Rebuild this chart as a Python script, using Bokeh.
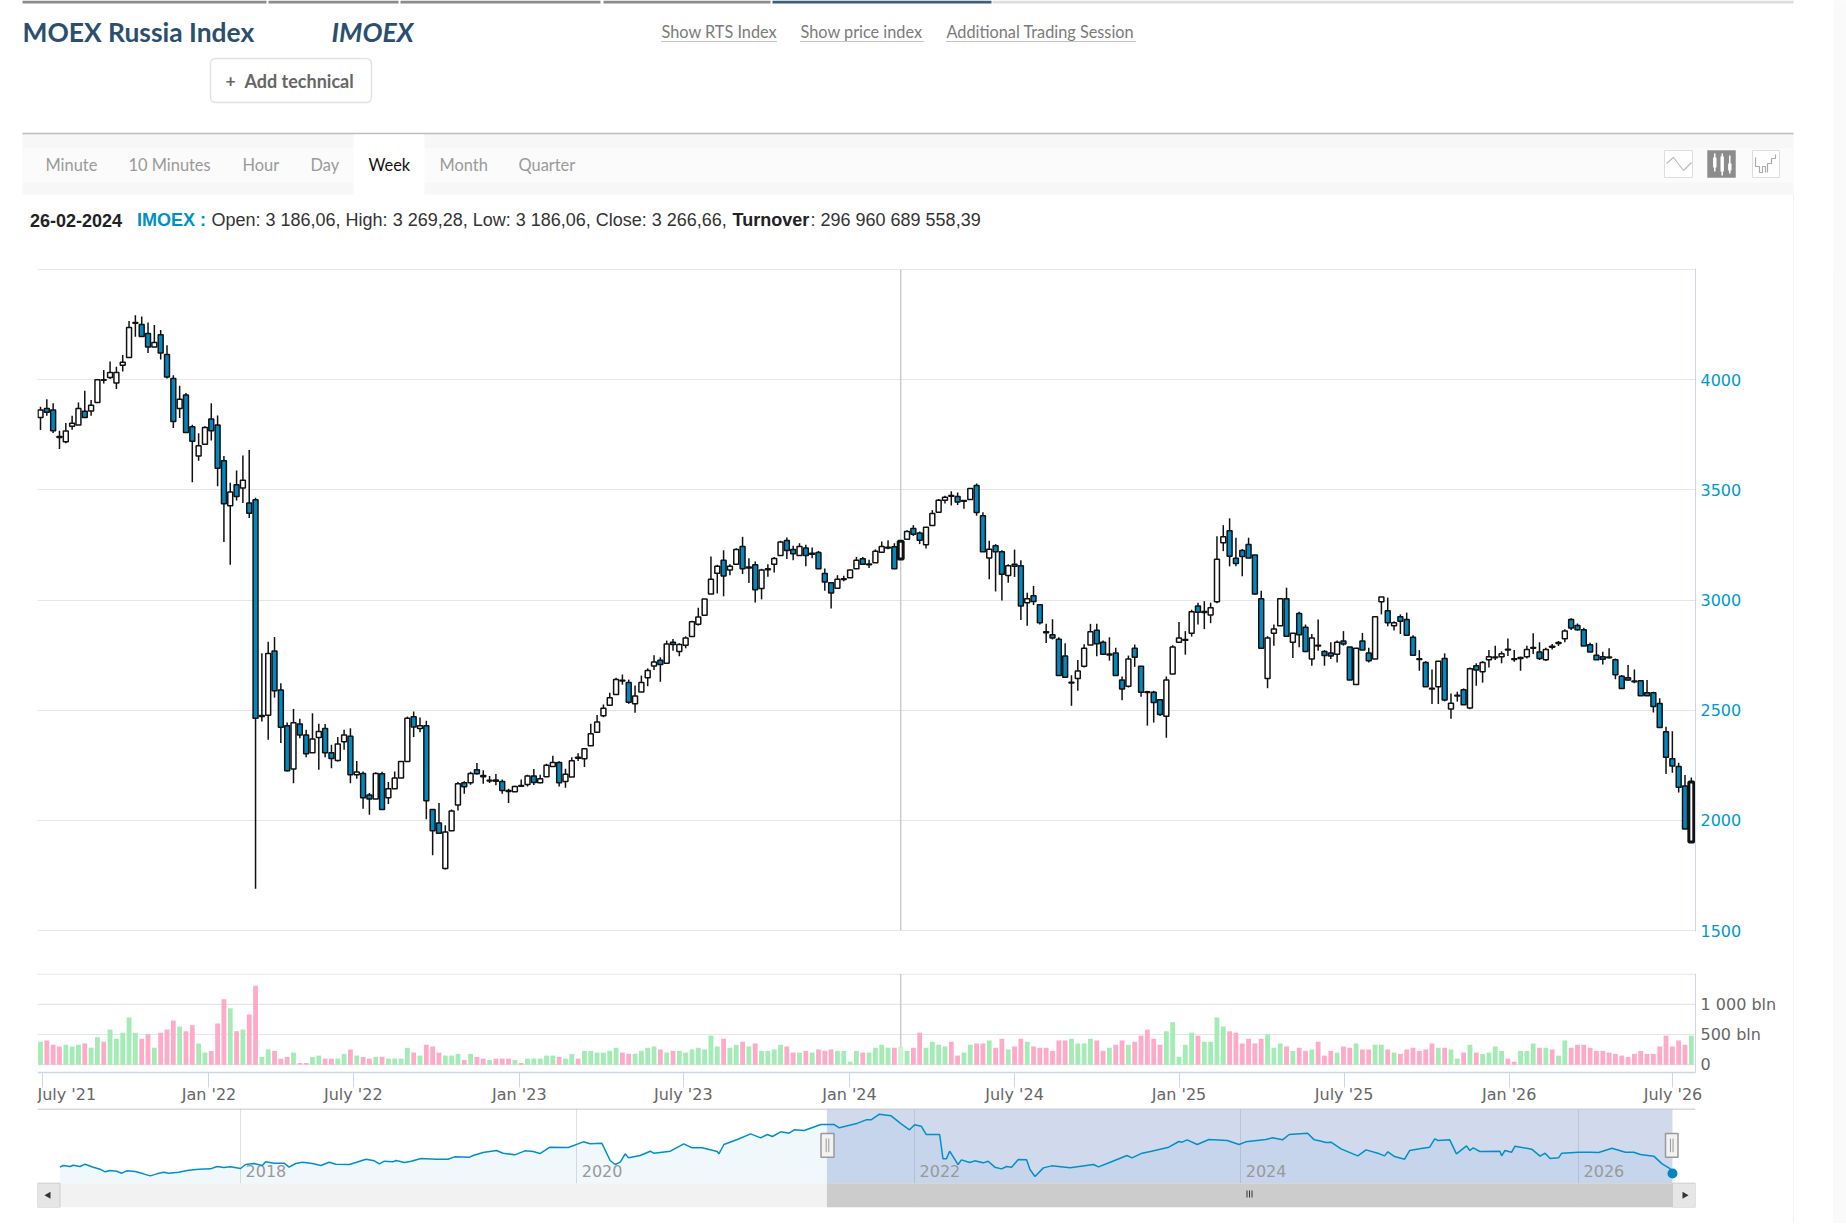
from math import pi
from bokeh.plotting import figure
from bokeh.layouts import column
from bokeh.embed import file_html
from bokeh.resources import INLINE
from bokeh.core.properties import value
from bokeh.models import Range1d, FixedTicker, BoxAnnotation, ColumnDataSource

# ---------------- weekly candles (index points) ----------------
open_ = [
3829,3870,3863,3742,3719,3789,3795,3857,3858,3897, 3998,4010,3985,4066,4101,4257,4251,4210,4149,4204,
4115,4006,3870,3931,3787,3654,3707,3822,3795,3632, 3428,3523,3509,3441,3455,2476,2477,2769,2592,2429,
2233,2437,2388,2307,2376,2417,2307,2272,2357,2382, 2207,2213,2115,2097,2212,2103,2144,2192,2267,2470,
2417,2429,2049,1988,1781,1953,2070,2171,2171,2230, 2204,2182,2183,2176,2135,2130,2155,2163,2201,2171,
2198,2245,2263,2176,2197,2282,2280,2339,2400,2475, 2523,2571,2636,2626,2529,2583,2647,2701,2727,2713,
2808,2767,2795,2835,2890,2931,3027,3122,3181,3136, 3162,3243,3150,3160,3053,3138,3163,3202,3270,3230,
3202,3236,3212,3216,3121,3079,3054,3093,3101,3142, 3187,3164,3169,3217,3240,3242,3186,3276,3325,3304,
3251,3338,3399,3453,3475,3470,3452,3457,3520,3383, 3191,3246,3219,3111,3163,3156,2988,3020,2979,2856,
2842,2822,2746,2627,2644,2699,2796,2863,2808,2755, 2760,2637,2609,2781,2699,2584,2582,2548,2473,2664,
2808,2821,2849,2973,2948,2932,2992,3260,3315,3190, 3225,3252,3205,3006,2644,2849,2883,3006,2808,2939,
2877,2732,2795,2767,2760,2754,2814,2787,2617,2814, 2760,2732,2992,2951,2883,2924,2912,2831,2734,2716,
2600,2607,2735,2505,2564,2593,2510,2702,2675,2729, 2742,2743,2777,2734,2739,2743,2785,2764,2729,2790,
2807,2824,2912,2885,2865,2797,2750,2743,2742,2729, 2654,2647,2633,2634,2579,2579,2531,2402,2280,2245,
2156,1902,
]
close_ = [
3863,3852,3769,3738,3767,3802,3870,3829,3884,4000, 4000,4033,4033,4080,4237,4260,4196,4149,4169,4121,
4012,3810,3911,3761,3721,3700,3783,3769,3598,3437, 3490,3470,3544,3394,2464,2471,2757,2588,2423,2225,
2443,2388,2302,2369,2403,2307,2281,2347,2388,2207, 2219,2103,2097,2213,2049,2144,2192,2267,2464,2424,
2429,2089,1953,1941,1947,2042,2166,2153,2213,2212, 2198,2179,2177,2136,2131,2154,2158,2201,2172,2189,
2250,2263,2171,2209,2271,2286,2325,2393,2447,2509, 2556,2639,2633,2536,2564,2626,2680,2719,2707,2801,
2798,2798,2828,2902,2923,3005,3094,3154,3109,3154, 3230,3142,3145,3047,3136,3142,3189,3263,3225,3210,
3243,3202,3208,3142,3082,3032,3094,3097,3136,3181, 3163,3160,3222,3243,3236,3142,3267,3311,3299,3272,
3331,3393,3453,3467,3471,3445,3448,3506,3397,3219, 3231,3219,3117,3156,3153,2973,3006,2994,2897,2852,
2828,2658,2650,2623,2678,2781,2856,2802,2754,2751, 2658,2596,2732,2740,2582,2580,2535,2480,2637,2787,
2828,2817,2947,2945,2943,2965,3185,3287,3199,3166, 3198,3191,3027,2781,2828,2869,3006,2836,2849,2843,
2767,2828,2791,2748,2746,2808,2801,2637,2781,2773, 2725,2924,3014,2897,2897,2904,2840,2749,2730,2607,
2596,2722,2546,2532,2568,2525,2688,2682,2716,2743, 2738,2756,2773,2730,2735,2776,2781,2735,2776,2786,
2803,2859,2873,2865,2791,2764,2729,2731,2738,2661, 2599,2637,2629,2566,2566,2517,2422,2287,2247,2150,
1961,2174,
]
high = [
3878,3912,3893,3769,3804,3837,3897,3950,3908,4000, 4044,4083,4059,4112,4267,4293,4287,4260,4248,4226,
4157,4020,3973,3940,3796,3757,3789,3893,3838,3654, 3533,3588,3656,3681,3464,2758,2811,2832,2622,2444,
2506,2461,2411,2486,2438,2437,2343,2378,2411,2418, 2270,2222,2124,2218,2221,2174,2222,2267,2471,2494,
2467,2452,2049,2079,1978,2049,2174,2177,2221,2260, 2227,2201,2210,2185,2144,2157,2186,2207,2233,2207,
2257,2293,2268,2234,2287,2305,2325,2438,2478,2526, 2579,2647,2662,2639,2612,2657,2690,2749,2740,2816,
2823,2804,2835,2906,2965,3005,3198,3160,3226,3163, 3235,3287,3190,3175,3142,3163,3196,3269,3284,3246,
3258,3251,3239,3223,3143,3079,3113,3110,3139,3196, 3196,3183,3230,3266,3272,3258,3269,3317,3340,3311,
3331,3408,3459,3474,3494,3488,3454,3508,3529,3398, 3269,3254,3226,3163,3229,3181,3033,3064,2979,2892,
2913,2831,2804,2659,2728,2799,2892,2892,2816,2831, 2783,2653,2748,2798,2699,2588,2588,2548,2653,2795,
2900,2859,2956,2988,2995,2988,3290,3340,3371,3283, 3232,3283,3205,3042,2836,2889,3006,3056,2849,2947,
2889,2846,2912,2773,2808,2816,2859,2787,2781,2851, 2783,2924,3014,3011,2904,2935,2943,2840,2773,2723,
2685,2722,2758,2576,2584,2599,2694,2713,2723,2773, 2793,2767,2826,2773,2743,2793,2849,2808,2784,2800,
2814,2867,2917,2894,2874,2806,2806,2765,2781,2735, 2660,2705,2685,2637,2637,2584,2554,2425,2405,2262,
2206,2195,
]
low = [
3772,3837,3758,3686,3712,3773,3795,3829,3837,3897, 3983,4003,3958,4038,4101,4195,4196,4121,4149,4092,
4006,3781,3826,3761,3535,3632,3707,3724,3517,3263, 3160,3452,3440,3372,1689,2449,2366,2557,2351,2222,
2169,2373,2287,2307,2230,2287,2237,2267,2320,2169, 2189,2053,2026,2097,2049,2074,2144,2192,2267,2378,
2400,2005,1842,1941,1777,1953,2045,2121,2162,2208, 2166,2170,2159,2121,2079,2130,2154,2154,2160,2168,
2198,2245,2154,2148,2197,2269,2242,2339,2400,2468, 2523,2571,2616,2529,2488,2583,2609,2683,2629,2713,
2770,2745,2781,2835,2884,2931,3027,3030,3017,3113, 3162,3118,3077,2989,3003,3106,3125,3202,3186,3181,
3202,3153,3190,3142,3042,2962,3054,3085,3101,3142, 3163,3145,3169,3217,3231,3142,3186,3276,3291,3254,
3234,3338,3399,3438,3429,3432,3415,3457,3383,3219, 3094,3039,2998,3079,3105,2909,2883,2977,2889,2805,
2821,2658,2646,2520,2588,2694,2796,2745,2754,2725, 2658,2545,2603,2697,2561,2430,2444,2474,2375,2664,
2808,2752,2834,2889,2868,2895,2986,3222,3153,3153, 3108,3191,3024,2781,2600,2793,2883,2836,2737,2786,
2763,2702,2770,2702,2732,2717,2793,2637,2617,2773, 2717,2732,2935,2881,2862,2846,2838,2747,2679,2607,
2528,2528,2540,2461,2539,2525,2504,2611,2625,2694, 2728,2713,2746,2720,2679,2735,2755,2728,2723,2776,
2791,2808,2864,2861,2791,2764,2729,2708,2735,2640, 2599,2634,2622,2566,2566,2490,2422,2210,2216,2127,
1961,1902,
]
emphasised_weeks = [136, 261]

# ---------------- weekly turnover, bln ----------------
turnover = [
380,402,330,302,330,302,330,352,280,453, 380,581,430,531,783,531,430,503,280,531,
581,732,632,553,654,352,201,229,682,1084, 934,553,581,833,1308,129,252,229,101,129,
201,28,28,129,151,101,101,101,179,252, 151,129,101,129,129,101,101,101,280,201,
151,330,302,201,151,151,179,78,179,129, 101,78,101,101,101,78,28,101,101,101,
151,151,129,101,179,101,229,229,201,201, 229,280,201,179,179,229,280,302,252,201,
229,229,201,252,280,252,481,302,430,280, 330,380,302,352,229,229,252,330,302,201,
201,229,201,252,229,252,229,229,50,229, 201,201,280,330,280,280,297,229,280,531,
280,380,330,302,380,151,201,330,352,352, 402,280,430,252,302,430,380,302,280,280,
229,402,402,430,352,352,430,402,229,280, 330,402,330,380,481,581,430,330,553,704,
129,330,531,481,380,380,783,632,553,531, 352,430,352,430,503,280,352,302,229,280,
229,252,380,151,229,201,302,280,352,252, 252,330,330,252,201,179,252,280,229,252,
352,280,280,252,101,201,330,201,179,201, 302,229,101,50,229,229,352,280,280,252,
151,402,280,330,330,280,229,229,201,179, 151,129,179,229,179,179,302,481,302,402,
330,481,
]
turnover_dir = (
"GPPPGGGPGG" "PGGGGGPPGP" "PPGPPGGPPP" "GPGPPGGPPP" "GPPGGPPGGP"
"GPPGPGGGGP" "GPPPGGGPGP" "PGPPPGPGGG" "GGPGGPGGGG" "GGPPGGGGPG"
"PGGGGGGGPG" "GPGPGGGGPP" "GPGPPPGGGG" "PGGGGPGGPP" "GGGGPPGGPP"
"GPPGPPGPPP" "PPPGGGGPPG" "PPGPPPPPGG" "GGGPGGGGPP" "PPPPGGGPGP"
"PGPPPGPPGP" "PGGPGPPPPP" "PGPGGPGPGG" "GGPPGGGPGP" "GGPPPPPPPP"
"PPPPPPPPPP" "PG"
)

# ---------------- axes ----------------
price_ticks = [1500, 2000, 2500, 3000, 3500, 4000, 4500]
turnover_ticks = [0, 500, 1000, 1500]
turnover_labels = {"0": "0", "500": "500 bln", "1000": "1 000 bln", "1500": ""}
time_tick_pos = [0.27, 26.64, 49.45, 75.7, 101.63, 127.9, 154.0, 180.0, 206.1, 232.2, 258.1]
time_tick_lab = ["July '21", "Jan '22", "July '22", "Jan '23", "July '23", "Jan '24",
                 "July '24", "Jan '25", "July '25", "Jan '26", "July '26"]
nav_tick_pos = [2018.0, 2020.01, 2022.03, 2023.98, 2026.0]
nav_tick_lab = ["2018", "2020", "2022", "2024", "2026"]

# ---------------- navigator series ----------------
nav_t = [
2016.92,2016.94,2016.98,2017.00,2017.04,2017.07,2017.12,2017.16,2017.19,2017.22,2017.26,2017.29,2017.32,2017.37,
2017.42,2017.46,2017.50,2017.54,2017.57,2017.63,2017.69,2017.75,2017.82,2017.86,2017.90,2017.94,2018.00,2018.03,
2018.08,2018.13,2018.15,2018.20,2018.26,2018.29,2018.33,2018.37,2018.43,2018.48,2018.53,2018.57,2018.65,2018.69,
2018.75,2018.80,2018.83,2018.86,2018.91,2018.93,2018.98,2019.02,2019.08,2019.17,2019.24,2019.28,2019.37,2019.39,
2019.45,2019.53,2019.57,2019.64,2019.70,2019.75,2019.79,2019.85,2019.96,2020.05,2020.09,2020.16,2020.21,2020.24,
2020.27,2020.30,2020.32,2020.39,2020.45,2020.47,2020.57,2020.65,2020.70,2020.76,2020.85,2020.86,2020.89,2020.97,
2021.05,2021.11,2021.15,2021.18,2021.23,2021.28,2021.31,2021.37,2021.47,2021.55,2021.58,2021.69,2021.74,2021.77,
2021.82,2021.89,2021.95,2022.00,2022.03,2022.07,2022.10,2022.18,2022.20,2022.22,2022.24,2022.29,2022.31,2022.36,
2022.39,2022.44,2022.47,2022.51,2022.55,2022.58,2022.61,2022.65,2022.70,2022.72,2022.75,2022.80,2022.85,2022.96,
2023.10,2023.13,2023.20,2023.30,2023.33,2023.39,2023.44,2023.55,2023.61,2023.63,2023.66,2023.72,2023.79,2023.90,
2023.97,2024.01,2024.13,2024.17,2024.23,2024.27,2024.38,2024.42,2024.45,2024.49,2024.52,2024.58,2024.68,2024.73,
2024.81,2024.84,2024.86,2024.90,2024.96,2024.99,2025.05,2025.11,2025.14,2025.16,2025.23,2025.27,2025.33,2025.35,
2025.37,2025.41,2025.53,2025.54,2025.56,2025.60,2025.62,2025.72,2025.77,2025.80,2025.83,2025.88,2025.90,2026.00,
2026.07,2026.12,2026.20,2026.28,2026.33,2026.37,2026.45,2026.50,2026.54,2026.56,
]
nav_v = [
2258,2321,2283,2334,2283,2372,2258,2181,2080,2131,2105,2029,2118,2093,
2004,1927,2004,2067,2029,2067,2143,2181,2194,2283,2245,2270,2207,2359,
2397,2321,2461,2410,2410,2258,2397,2448,2397,2321,2448,2372,2359,2435,
2562,2499,2385,2486,2461,2512,2435,2486,2588,2562,2562,2651,2639,2702,
2816,2893,2791,2727,2880,2855,2778,3020,3007,3223,3147,3172,2512,2359,
2448,2766,2613,2702,2867,2791,2867,3147,2994,2994,2855,2766,3121,3312,
3528,3375,3502,3426,3604,3553,3680,3655,3883,3883,3756,3934,4061,4061,
4277,4213,3909,3680,3871,3820,3502,3502,2575,2575,2867,2359,2537,2435,
2499,2423,2486,2258,2194,2283,2258,2550,2537,2169,1902,2232,2308,2232,
2359,2270,2448,2702,2613,2791,2855,3020,3236,3210,3299,3121,3312,3274,
3121,3223,3312,3375,3299,3502,3553,3299,3261,3197,3210,2956,2689,2918,
2766,2689,2842,2664,2562,2893,2956,3020,3337,3274,3299,2766,3070,2893,
2994,2855,2867,2689,2893,2829,3058,2943,2677,2791,2588,2613,2791,2829,
2829,2816,2982,2829,2829,2740,2677,2385,2232,2131,
]

# ---------------- page geometry (the page renders at 0,0) ----------------
W = 1846
PAD_L, PAD_R = 37, 151
BLUE = "#0088bf"
AXIS = "#ccd6eb"
GRID = "#e6e6e6"
FONT_AX = "DejaVu Sans"
x0_px, step_px = 40.0, 6.325
idx_start = (37 - x0_px) / step_px
idx_end = (1695 - x0_px) / step_px
idx_page_end = (W - x0_px) / step_px

# ---------------- header (page chrome, in page pixels) ----------------
H_A = 268
a = figure(width=W, height=H_A, x_range=Range1d(0, W), y_range=Range1d(H_A, 0), x_axis_location=None,
           y_axis_location=None, toolbar_location=None, output_backend="svg", min_border=0, outline_line_color=None)
a.frame_align = False
a.grid.visible = False
LATO = value("Lato")
LIB = value("Liberation Sans")


def txt(x, y, s, size, color, font=LATO, style="normal", align="left"):
    a.text([x], [y], text=[s], text_font=font, text_font_size=f"{size}px", text_color=color,
           text_font_style=style, text_align=align, text_baseline="middle")


# top tab strip
tabs = [(22, 266, "#8c8c8c"), (268, 398, "#8c8c8c"), (400, 600, "#8c8c8c"), (603, 770, "#8c8c8c"),
        (772, 991, "#3f5f78"), (992, 1793, "#dddddd")]
for l, r, c in tabs:
    a.quad(left=l, right=r, top=0, bottom=3, fill_color=c, line_color=None)
a.quad(left=1833, right=1846, top=0, bottom=268, fill_color="#fafafa", line_color=None)
txt(22, 31, "MOEX Russia Index", 26.4, "#2b4f6e", style="bold")
txt(331, 31, "IMOEX", 26.6, "#2b4f6e", style="bold italic")
for x1, x2, s in [(661, 777, "Show RTS Index"), (800, 923, "Show price index"), (946, 1135, "Additional Trading Session")]:
    txt(x1, 31, s, 16.3, "#7b7b7b")
    a.segment(x1, 41, x2, 41, line_color="#888888", line_dash="1 1", line_width=1)
a.add_layout(BoxAnnotation(left=210, right=371, top=58, bottom=102, fill_alpha=0, line_color="#a0a0a0",
                           line_width=1.4, border_radius=5))
txt(225, 80, "+", 17.5, "#666666", style="bold")
txt(244, 80, "Add technical", 18, "#666666", style="bold")

# toolbar
a.quad(left=22, right=1793, top=133, bottom=194, fill_color="#f7f7f7", line_color=None)
a.quad(left=22, right=1793, top=148, bottom=182, fill_color="#fbfbfb", line_color=None)
a.segment(22, 133, 1793, 133, line_color="#bdbdbd", line_width=1.3)
a.quad(left=353, right=424, top=134, bottom=194, fill_color="#ffffff", line_color=None)
a.segment(1793, 194, 1793, 268, line_color="#f2f2f2", line_width=1)
for x, s, c in [(45, "Minute", "#9a9a9a"), (128, "10 Minutes", "#9a9a9a"), (242, "Hour", "#9a9a9a"), (310, "Day", "#9a9a9a"),
                (368, "Week", "#111111"), (439, "Month", "#9a9a9a"), (518, "Quarter", "#9a9a9a")]:
    txt(x, 163.5, s, 16.4, c)
# chart-type buttons
a.quad(left=[1664, 1707, 1752], right=[1692, 1735, 1779], top=150, bottom=177,
       fill_color=["#ffffff", "#8c8c8c", "#ffffff"], line_color=["#dddddd", "#aaaaaa", "#dddddd"])
a.line([1666, 1673, 1683, 1691], [163, 157, 170, 162], line_color="#bbbbbb", line_width=1.2)
for cx, t, b_, wt, wb in [(1714.3, 157, 167, 153, 171), (1721.7, 156, 171, 153, 175), (1729.3, 163, 170, 155, 173)]:
    a.segment(cx, wt, cx, wb, line_color="#ffffff", line_width=1.5)
    a.quad(left=cx - 1.7, right=cx + 1.7, top=t, bottom=b_, fill_color="#ffffff", line_color=None)
a.line([1755, 1755, 1759, 1759, 1762, 1762, 1765, 1765], [157, 166, 166, 172, 172, 166, 166, 172],
       line_color="#aaaaaa", line_width=1.2)
a.line([1767, 1767, 1771, 1771, 1775, 1775], [172, 163, 163, 158, 158, 154], line_color="#aaaaaa", line_width=1.2)

# info line
txt(29.5, 219.5, "26-02-2024", 18, "#222222", font=LIB, style="bold")
txt(136.5, 219.5, "IMOEX :", 18, "#0090c8", font=LIB, style="bold")
txt(211, 219.5, "Open: 3 186,06, High: 3 269,28, Low: 3 186,06, Close: 3 266,66,", 18, "#333333", font=LIB)
txt(732, 219.5, "Turnover", 18, "#222222", font=LIB, style="bold")
txt(810, 219.5, ": 296 960 689 558,39", 18, "#333333", font=LIB)

# ---------------- price pane ----------------
x = list(range(len(open_)))
b = figure(width=W, height=677, x_range=Range1d(idx_start, idx_end), y_range=Range1d(1495.5, 4505),
           x_axis_location=None, y_axis_location="right", toolbar_location=None, output_backend="svg",
           min_border_left=PAD_L, min_border_right=PAD_R, min_border_top=0, min_border_bottom=14,
           outline_line_color=None, border_fill_color=None)
b.frame_align = False
b.xgrid.visible = False
b.ygrid.ticker = FixedTicker(ticks=price_ticks)
b.ygrid.grid_line_color = GRID
b.ygrid.grid_line_width = 1.2
b.yaxis.ticker = FixedTicker(ticks=price_ticks)
b.yaxis.major_label_overrides = {4500: ""}
b.yaxis.major_tick_line_color = None
b.yaxis.major_tick_in = 0
b.yaxis.major_tick_out = 0
b.yaxis.minor_tick_line_color = None
b.yaxis.axis_line_color = AXIS
b.yaxis.major_label_standoff = 5
b.yaxis.major_label_text_color = "#0099cc"
b.yaxis.major_label_text_font = FONT_AX
b.yaxis.major_label_text_font_size = "16px"
b.segment(x0=[136], y0=[1500], x1=[136], y1=[4500], line_color="#cccccc", line_width=1.5)
src = ColumnDataSource(dict(
    x=x, top=[max(o, c) for o, c in zip(open_, close_)], bot=[min(o, c) for o, c in zip(open_, close_)],
    hi=high, lo=low,
    fill=["#ffffff" if c >= o else BLUE for o, c in zip(open_, close_)],
    lw=[3.0 if i in emphasised_weeks else 1.5 for i in x],
))
b.segment(x0="x", y0="hi", x1="x", y1="lo", source=src, line_color="#111111", line_width=1.5)
b.vbar(x="x", width=0.78, top="top", bottom="bot", source=src, fill_color="fill", line_color="#111111", line_width="lw")

# ---------------- turnover pane ----------------
AX_Y = -132
c = figure(width=W, height=163, x_range=Range1d(idx_start, idx_page_end), y_range=Range1d(-725, 1510),
           x_axis_location="below", y_axis_location="right", toolbar_location=None, output_backend="svg",
           min_border_left=PAD_L, min_border_right=0, min_border_top=28, min_border_bottom=0,
           outline_line_color=None, border_fill_color=None, background_fill_color=None)
c.frame_align = False
c.grid.visible = False
c.segment(x0=[idx_start] * len(turnover_ticks), y0=turnover_ticks, x1=[idx_end] * len(turnover_ticks), y1=turnover_ticks,
          line_color=GRID, line_width=1.2)
c.yaxis.fixed_location = idx_end
c.yaxis.ticker = FixedTicker(ticks=turnover_ticks)
c.yaxis.bounds = (AX_Y, 1510)
c.yaxis.major_label_overrides = {int(k): v for k, v in turnover_labels.items()}
c.yaxis.major_tick_line_color = None
c.yaxis.major_tick_in = 0
c.yaxis.major_tick_out = 0
c.yaxis.minor_tick_line_color = None
c.yaxis.axis_line_color = AXIS
c.yaxis.major_label_standoff = 5
c.yaxis.major_label_text_color = "#666666"
c.yaxis.major_label_text_font = FONT_AX
c.yaxis.major_label_text_font_size = "16px"
c.xaxis.fixed_location = AX_Y
c.xaxis.bounds = (idx_start, idx_end)
c.xaxis.ticker = FixedTicker(ticks=time_tick_pos)
c.xaxis.major_label_overrides = {p_: (l_ if i_ else "") for i_, (p_, l_) in enumerate(zip(time_tick_pos, time_tick_lab))}
c.xaxis.axis_line_color = AXIS
c.xaxis.axis_line_width = 1.5
c.xaxis.major_tick_line_color = AXIS
c.xaxis.major_tick_in = 0
c.xaxis.major_tick_out = 15
c.xaxis.minor_tick_line_color = None
c.xaxis.major_label_standoff = -3
c.xaxis.major_label_text_color = "#666666"
c.xaxis.major_label_text_font = FONT_AX
c.xaxis.major_label_text_font_size = "16px"
c.text(x=[idx_start], y=[-494], text=[time_tick_lab[0]], text_font=value(FONT_AX), text_font_size="16px",
       text_color="#666666", text_align="left", text_baseline="middle")
c.segment(x0=[136], y0=[0], x1=[136], y1=[1500], line_color="#cccccc", line_width=1.5)
vol_colors = ["#a3ecb5" if d_ == "G" else "#ffabc7" for d_ in turnover_dir]
vol_colors[136] = "#c6f6d2"
c.vbar(x=x, width=0.76, top=turnover, bottom=0, fill_color=vol_colors, line_color=None)

# ---------------- navigator + scrollbar ----------------
NAV_TOP, NAV_BASE, NAV_BOT = 4493, 1648, 722
yr = lambda px: 2016.786 + (px - 37) / 167.25
d = figure(width=W, height=115, x_range=Range1d(yr(37), yr(1695)), y_range=Range1d(NAV_BOT, NAV_TOP),
           x_axis_location=None, y_axis_location=None, toolbar_location=None, output_backend="svg",
           min_border_left=PAD_L, min_border_right=PAD_R, min_border_top=0, min_border_bottom=16,
           outline_line_color=None, border_fill_color=None)
d.frame_align = False
d.ygrid.visible = False
d.xgrid.ticker = FixedTicker(ticks=nav_tick_pos)
d.xgrid.grid_line_color = "#e0e0e0"
d.varea(x=nav_t, y1=nav_v, y2=NAV_BASE, fill_color="#0090c8", fill_alpha=0.06)
d.quad(left=yr(826.4), right=yr(1672), top=NAV_TOP, bottom=NAV_BASE, fill_color="#6685c2", fill_alpha=0.3, line_color=None)
d.text(x=nav_tick_pos, y=[NAV_BASE + 11.7 * 38.1] * len(nav_tick_pos), text=nav_tick_lab, x_offset=5,
       text_font=value(FONT_AX), text_font_size="16px", text_color="#999999", text_baseline="middle")
d.line(nav_t, nav_v, line_color="#0090c8", line_width=1.5)
d.segment(yr(37), NAV_TOP - 20, yr(1695), NAV_TOP - 20, line_color="#cccccc", line_width=1.5)
# scrollbar
d.quad(left=yr(37), right=yr(1695), top=NAV_BASE, bottom=NAV_BOT, fill_color="#f2f2f2", line_color=None)
d.quad(left=yr(826.4), right=yr(1672), top=NAV_BASE, bottom=NAV_BOT, fill_color="#cccccc", line_color=None)
d.quad(left=[yr(37), yr(1672)], right=[yr(59.5), yr(1695)], top=NAV_BASE, bottom=NAV_BOT, fill_color="#e6e6e6",
       line_color="#cccccc", line_width=1)
d.scatter(x=[yr(48)], y=[NAV_BASE - 12 * 38.1], marker="triangle", size=7, angle=pi / 2, fill_color="#333333", line_color=None)
d.scatter(x=[yr(1684)], y=[NAV_BASE - 12 * 38.1], marker="triangle", size=7, angle=-pi / 2, fill_color="#333333", line_color=None)
d.segment(x0=[yr(1246.5), yr(1249), yr(1251.5)], y0=[1370] * 3, x1=[yr(1246.5), yr(1249), yr(1251.5)], y1=[1103] * 3,
          line_color="#333333", line_width=1)
# handles
d.scatter(x=[yr(1672)], y=[2018], marker="circle", size=10, fill_color=BLUE, line_color=None)
for l, r in [(820.5, 833.5), (1665, 1677.5)]:
    d.quad(left=yr(l), right=yr(r), top=3541, bottom=2639, fill_color="#f2f2f2", line_color="#999999", line_width=1.5)
    m = (l + r) / 2
    d.segment(x0=[yr(m - 1.3), yr(m + 1.3)], y0=[3350] * 2, x1=[yr(m - 1.3), yr(m + 1.3)], y1=[2830] * 2,
              line_color="#999999", line_width=1)

page = column(a, b, c, d, spacing=0, width=W,
              styles={"background": "linear-gradient(90deg,#fff 0,#fff 1793px,#f2f2f2 1793px,#f2f2f2 1794px,"
                                    "#fff 1794px,#fff 1833px,#fafafa 1833px)"})
open("out.html", "w").write(file_html(page, INLINE))
